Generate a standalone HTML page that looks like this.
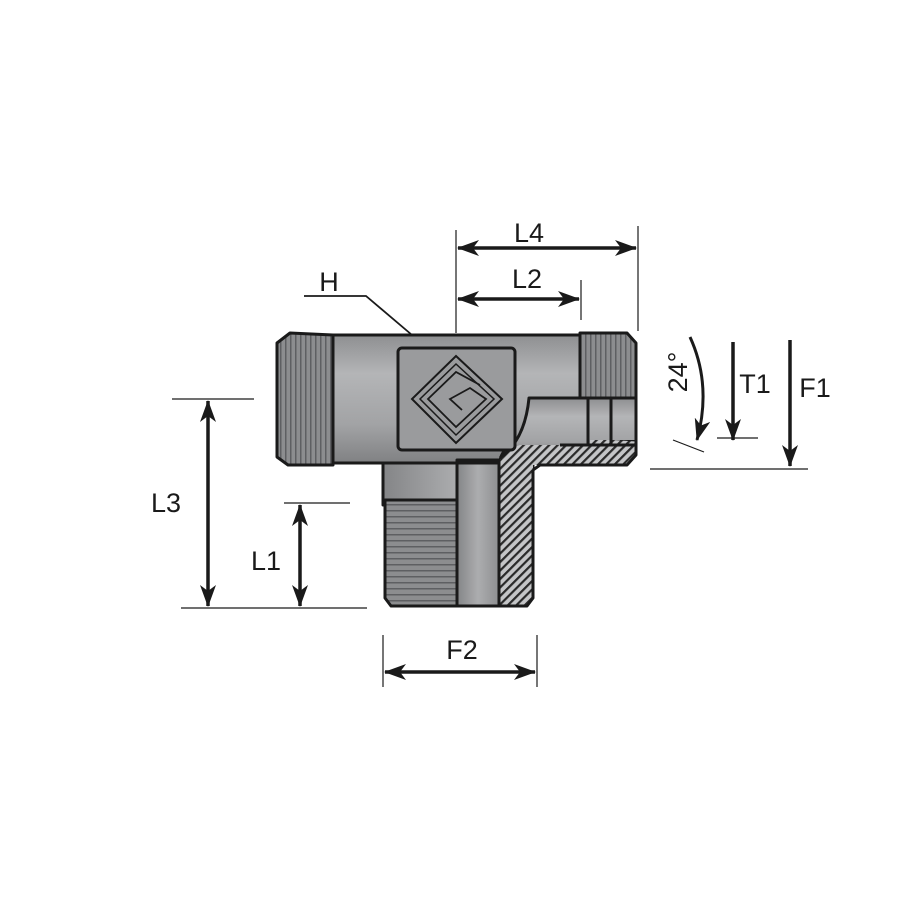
<!DOCTYPE html>
<html><head><style>html,body{margin:0;padding:0;background:#fff}svg{display:block}</style></head><body>
<svg width="900" height="900" viewBox="0 0 900 900" xmlns="http://www.w3.org/2000/svg" font-family="Liberation Sans, sans-serif">
<defs>
<marker id="a" viewBox="0 0 22 16" refX="21" refY="8" markerWidth="22" markerHeight="16" markerUnits="userSpaceOnUse" orient="auto-start-reverse"><path d="M0,0 L22,8 L0,16 L6,8 Z" fill="#1a1a1a"/></marker>
<linearGradient id="gv" x1="0" y1="0" x2="0" y2="1"><stop offset="0" stop-color="#8e8f91"/><stop offset="0.3" stop-color="#b4b5b7"/><stop offset="0.7" stop-color="#a2a3a5"/><stop offset="1" stop-color="#808183"/></linearGradient>
<linearGradient id="gh" x1="0" y1="0" x2="1" y2="0"><stop offset="0" stop-color="#848587"/><stop offset="0.5" stop-color="#acadaf"/><stop offset="1" stop-color="#8e8f91"/></linearGradient>
<pattern id="tv" width="5" height="10" patternUnits="userSpaceOnUse"><rect width="5" height="10" fill="#8c8d8f"/><rect width="1.5" height="10" fill="#5e5f62"/></pattern>
<pattern id="th" width="10" height="6" patternUnits="userSpaceOnUse"><rect width="10" height="6" fill="#8c8d8f"/><rect width="10" height="1.5" fill="#5e5f62"/></pattern>
<pattern id="hat" width="6" height="6" patternUnits="userSpaceOnUse" patternTransform="rotate(45)"><rect width="6" height="6" fill="#c4c5c7"/><rect width="2.2" height="6" fill="#2a2a2a"/></pattern>
</defs>
<g stroke="#1a1a1a" stroke-width="3" stroke-linejoin="round">
<rect x="383" y="455" width="150" height="50" fill="url(#gh)"/>
<path d="M385,500 L457,500 L457,606 L391,606 L385,598 Z" fill="url(#th)"/>
<rect x="457" y="460" width="42" height="146" fill="url(#gh)"/>
<path d="M499,455 L533,455 L533,598 L527,606 L499,606 Z" fill="url(#hat)"/>
<rect x="333" y="335" width="247" height="128" fill="url(#gv)"/>
<path d="M333,335 L290,333 L277,343 L277,457 L288,465 L333,465 Z" fill="url(#tv)"/>
<path d="M580,333 L627,333 L636,343 L636,398 L580,398 Z" fill="url(#tv)"/>
<path d="M500,460 Q505,440 533,435 L560,435 L636,440 L636,455 L627,465 L533,465 L533,470 L500,470 Z" fill="url(#hat)" stroke="none"/>
<path d="M500,460 Q505,440 533,435 L560,435 L636,440 L636,455 L627,465 L540,465 L533,470" fill="none"/>
<path d="M529,398 L636,398 L636,440 L590,440 L590,445 L520,445 Q505,450 500,460 Q525,440 529,398 Z" fill="url(#gv)" stroke="none"/>
<path d="M500,458 Q525,440 529,398 L636,398 L636,445 L560,445" fill="none"/>
<line x1="588" y1="398" x2="588" y2="445"/><line x1="611" y1="398" x2="611" y2="445"/>
<rect x="457" y="460" width="42" height="146" fill="none"/>
<rect x="398" y="348" width="117" height="102" rx="4" fill="#9a9b9d"/>
</g>
<g fill="none" stroke="#1a1a1a" stroke-width="2">
<path d="M456,356 L502,399 L456,443 L412,399 Z"/>
<path d="M456,364 L494,399 L456,435 L420,399 Z" stroke-width="1.5"/>
<path d="M480,385 L456,372 L428,399 L456,427 L486,399 L470,388 L450,399 L462,410" stroke-width="1.8"/>
</g>
<g stroke="#1a1a1a" fill="none">
<line x1="456" y1="230" x2="456" y2="333" stroke-width="1.2"/>
<line x1="638" y1="226" x2="638" y2="331" stroke-width="1.2"/>
<line x1="581" y1="280" x2="581" y2="320" stroke-width="1.2"/>
<line x1="458" y1="248" x2="636" y2="248" stroke-width="3.5" marker-start="url(#a)" marker-end="url(#a)"/>
<line x1="458" y1="299" x2="579" y2="299" stroke-width="3.5" marker-start="url(#a)" marker-end="url(#a)"/>
<polyline points="304,296 366,296 412,335" stroke-width="1.8"/>
<line x1="172" y1="399" x2="254" y2="399" stroke-width="1.2"/>
<line x1="181" y1="608" x2="367" y2="608" stroke-width="1.2"/>
<line x1="284" y1="503" x2="350" y2="503" stroke-width="1.2"/>
<line x1="208" y1="401" x2="208" y2="606" stroke-width="3.5" marker-start="url(#a)" marker-end="url(#a)"/>
<line x1="300" y1="505" x2="300" y2="606" stroke-width="3.5" marker-start="url(#a)" marker-end="url(#a)"/>
<line x1="383" y1="635" x2="383" y2="687" stroke-width="1.2"/>
<line x1="537" y1="635" x2="537" y2="687" stroke-width="1.2"/>
<line x1="385" y1="672" x2="535" y2="672" stroke-width="3.5" marker-start="url(#a)" marker-end="url(#a)"/>
<line x1="650" y1="469" x2="808" y2="469" stroke-width="1.2"/>
<line x1="717" y1="438" x2="758" y2="438" stroke-width="1.2"/>
<line x1="790" y1="340" x2="790" y2="466" stroke-width="3.5" marker-end="url(#a)"/>
<line x1="733" y1="342" x2="733" y2="440" stroke-width="3.5" marker-end="url(#a)"/>
<path d="M690,337 Q712,385 697,440" stroke-width="3" marker-end="url(#a)"/>
<line x1="673" y1="440" x2="704" y2="452" stroke-width="1.2"/>
</g>
<g fill="#1a1a1a" font-size="27">
<text x="529" y="242" text-anchor="middle">L4</text>
<text x="527" y="288" text-anchor="middle">L2</text>
<text x="329" y="291" text-anchor="middle">H</text>
<text x="166" y="512" text-anchor="middle">L3</text>
<text x="266" y="570" text-anchor="middle">L1</text>
<text x="462" y="659" text-anchor="middle">F2</text>
<text x="755" y="393" text-anchor="middle">T1</text>
<text x="815" y="397" text-anchor="middle">F1</text>
<text transform="translate(687,372) rotate(-90)" text-anchor="middle">24°</text>
</g>
</svg>
</body></html>
